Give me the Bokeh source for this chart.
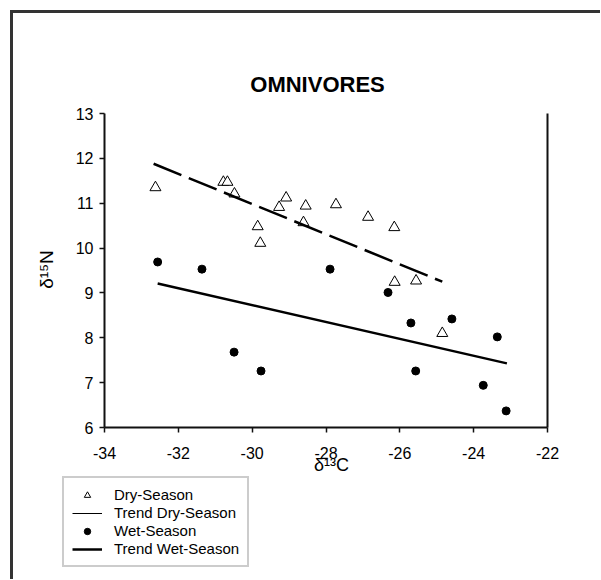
import math
from bokeh.plotting import figure
from bokeh.models import (LinearAxis, Range1d, Legend, LegendItem, FixedTicker, Label)
from bokeh.embed import file_html
from bokeh.resources import INLINE

# ---- data ----
dry_x = [-32.62, -30.78, -30.67, -30.48, -29.85, -29.78, -29.27, -29.08,
         -28.55, -28.61, -27.73, -26.86, -26.15, -26.14, -25.56, -24.85]
dry_y = [11.35, 11.47, 11.47, 11.21, 10.48, 10.11, 10.91, 11.12,
         10.94, 10.57, 10.97, 10.69, 10.46, 9.24, 9.27, 8.10]

wet_x = [-32.56, -31.36, -30.49, -29.76, -27.89, -26.32, -25.70, -25.57,
         -24.59, -23.74, -23.36, -23.12]
wet_y = [9.69, 9.53, 7.68, 7.26, 9.53, 9.01, 8.33, 7.26,
         8.42, 6.94, 8.02, 6.37]

dry_trend_x = [-32.67, -24.85]
dry_trend_y = [11.88, 9.25]
wet_trend_x = [-32.56, -23.10]
wet_trend_y = [9.21, 7.43]

x_ticks = [-34, -32, -30, -28, -26, -24, -22]
y_ticks = [6, 7, 8, 9, 10, 11, 12, 13]
X_MIN, X_MAX = -34, -22
Y_MIN, Y_MAX = 6, 13

FONT = "Liberation Sans"
W, H = 600, 579
# pixel geometry of the axes box
AX_L, AX_R, AX_T, AX_B = 104, 547, 113, 427


def px2x(px):
    return X_MIN + (px - AX_L) * (X_MAX - X_MIN) / (AX_R - AX_L)


def py2y(py):
    return Y_MIN + (AX_B - py) * (Y_MAX - Y_MIN) / (AX_B - AX_T)


p = figure(width=W, height=H, x_range=Range1d(px2x(0), px2x(W)),
           y_range=Range1d(py2y(H), py2y(0)),
           output_backend="svg", toolbar_location=None, title=None,
           min_border=0, min_border_left=0, min_border_right=0,
           min_border_top=0, min_border_bottom=0)
p.background_fill_color = None
p.border_fill_color = None
p.outline_line_color = None
p.xgrid.visible = False
p.ygrid.visible = False
# white page with the outer panel frame (left and top edges visible)
p.styles = {"background": "linear-gradient(#333333,#333333) 10px 10px / 3px 3000px no-repeat, "
                          "linear-gradient(#333333,#333333) 10px 10px / 3000px 3px no-repeat, white"}

for ax in (p.xaxis[0], p.yaxis[0]):
    ax.axis_line_width = 2
    ax.axis_line_color = "#111111"
    ax.major_tick_line_width = 1.5
    ax.major_tick_line_color = "#111111"
    ax.major_tick_out = 5
    ax.major_tick_in = 0
    ax.minor_tick_line_color = None
    ax.major_label_text_font = FONT
    ax.major_label_text_font_size = "16px"
    ax.major_label_text_color = "black"

p.xaxis.fixed_location = Y_MIN
p.xaxis.bounds = (X_MIN, X_MAX)
p.yaxis.fixed_location = X_MIN
p.yaxis.bounds = (Y_MIN, Y_MAX)
p.xaxis.ticker = FixedTicker(ticks=x_ticks)
p.yaxis.ticker = FixedTicker(ticks=y_ticks)
p.xaxis.major_label_overrides = {t: str(t) for t in x_ticks}
p.yaxis.major_label_overrides = {t: str(t) for t in y_ticks}
p.xaxis.major_label_standoff = 14
p.yaxis.major_label_standoff = 6

right_ax = LinearAxis(ticker=FixedTicker(ticks=[]), axis_line_width=2,
                      axis_line_color="#111111", major_tick_line_color=None,
                      minor_tick_line_color=None, major_label_text_font_size="0px",
                      fixed_location=X_MAX, bounds=(Y_MIN, Y_MAX))
p.add_layout(right_ax, "right")

# titles
p.add_layout(Label(x=px2x(317), y=py2y(84), text="OMNIVORES", text_align="center",
                   text_baseline="middle", text_font=FONT, text_font_size="22px",
                   text_font_style="bold", text_color="black"))
p.add_layout(Label(x=px2x(331), y=py2y(464), text="δ¹³C", text_align="center",
                   text_baseline="middle", text_font=FONT, text_font_size="18px",
                   text_color="black"))
p.add_layout(Label(x=px2x(46), y=py2y(269), text="δ¹⁵N", text_align="center",
                   text_baseline="middle", angle=math.pi / 2, text_font=FONT,
                   text_font_size="19px", text_color="black"))

# data
r_dry = p.scatter(dry_x, dry_y, marker="triangle", size=11, fill_color="white",
                  line_color="black", line_width=1)
r_wet = p.scatter(wet_x, wet_y, marker="circle", size=8, fill_color="black",
                  line_color="black")
p.line(dry_trend_x, dry_trend_y, line_dash="30 8", line_width=2.5, line_color="black")
r_wet_trend = p.line(wet_trend_x, wet_trend_y, line_width=2.5, line_color="black")

# legend-only sample for the thin trend symbol (no visible points)
nan = float("nan")
r_l1 = p.line([nan], [nan], line_width=1, line_color="black")

legend = Legend(items=[LegendItem(label="Dry-Season", renderers=[r_dry]),
                       LegendItem(label="Trend Dry-Season", renderers=[r_l1]),
                       LegendItem(label="Wet-Season", renderers=[r_wet]),
                       LegendItem(label="Trend Wet-Season", renderers=[r_wet_trend])],
                location=(62, H - 567), padding=8, spacing=1, margin=0,
                glyph_width=30, glyph_height=16, label_height=16, label_standoff=12,
                label_text_font=FONT, label_text_font_size="15px", label_text_color="black",
                border_line_color="#999999", border_line_width=2,
                background_fill_color="white", background_fill_alpha=1)
p.add_layout(legend)

open("out.html", "w").write(file_html(p, INLINE))
